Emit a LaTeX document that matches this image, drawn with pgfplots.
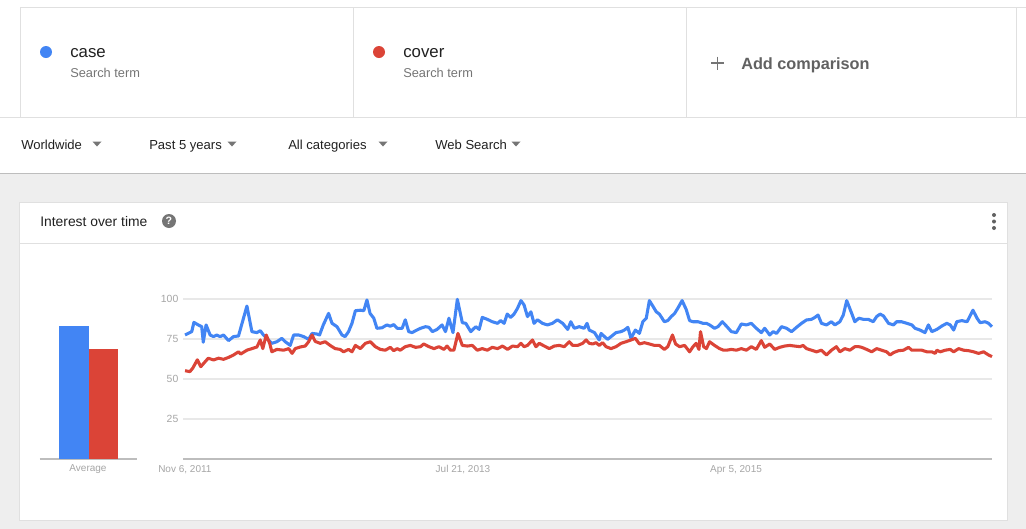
\documentclass[border=0pt]{standalone}
\usepackage{fontspec}
\setmainfont{Liberation Sans}
\usepackage{pgfplots}
\pgfplotsset{compat=1.18}
\definecolor{gblue}{HTML}{4285F4}
\definecolor{gred}{HTML}{DB4437}
\definecolor{pagegray}{HTML}{EEEEEE}
\definecolor{linegray}{HTML}{E0E0E0}
\definecolor{gridgray}{HTML}{E8E8E8}
\definecolor{axisgray}{HTML}{BDBDBD}
\definecolor{tickgray}{HTML}{A6A6A6}
\definecolor{textdark}{HTML}{212121}
\definecolor{textmid}{HTML}{757575}
\definecolor{textadd}{HTML}{616161}

\begin{document}
\begin{tikzpicture}
% page frame, 1 px = 0.75pt, y downward
\begin{scope}[x=0.75pt,y=-0.75pt]
  \useasboundingbox (0,0) rectangle (1026,529);
  \fill[white] (0,0) rectangle (1026,529);
  % search term cards
  \draw[linegray] (20,7) -- (1026,7);
  \draw[linegray] (20,7) -- (20,117);
  \draw[linegray] (353,7) -- (353,117);
  \draw[linegray] (686,7) -- (686,117);
  \draw[linegray] (1016,7) -- (1016,117);
  \draw[linegray] (0,117) -- (1026,117);
  \fill[gblue] (46,52) circle (6);
  \fill[gred] (379,52) circle (6);
  \node[anchor=base west, inner sep=0, text=textdark, font=\fontsize{12.6}{14}\selectfont] at (70,57.5) {case};
  \node[anchor=base west, inner sep=0, text=textmid, font=\fontsize{9.6}{11}\selectfont] at (70,77.5) {Search term};
  \node[anchor=base west, inner sep=0, text=textdark, font=\fontsize{12.6}{14}\selectfont] at (403,57.5) {cover};
  \node[anchor=base west, inner sep=0, text=textmid, font=\fontsize{9.6}{11}\selectfont] at (403,77.5) {Search term};
  \draw[textmid, line width=1.1pt] (711,63) -- (724,63) (717.5,56.5) -- (717.5,69.5);
  \node[anchor=base west, inner sep=0, text=textadd, font=\bfseries\fontsize{12.2}{14}\selectfont] at (741,69) {Add comparison};
  % filter row
  \node[anchor=base west, inner sep=0, text=textdark, font=\fontsize{9.8}{11}\selectfont] at (21,149.5) {Worldwide};
  \node[anchor=base west, inner sep=0, text=textdark, font=\fontsize{9.8}{11}\selectfont] at (149,149.5) {Past 5 years};
  \node[anchor=base west, inner sep=0, text=textdark, font=\fontsize{9.8}{11}\selectfont] at (288,149.5) {All categories};
  \node[anchor=base west, inner sep=0, text=textdark, font=\fontsize{9.8}{11}\selectfont] at (435,149.5) {Web Search};
  \foreach \ax in {97,232,383,516}
    \fill[textmid] (\ax-4.5,141.5) -- (\ax+4.5,141.5) -- (\ax,146.5) -- cycle;
  % gray page and card
  \fill[pagegray] (0,173) rectangle (1026,529);
  \draw[axisgray] (0,173) -- (1026,173);
  \fill[white, draw=linegray] (19,202) rectangle (1007,520);
  \draw[linegray] (19,243) -- (1007,243);
  \node[anchor=base west, inner sep=0, text=textdark, font=\fontsize{10.4}{12}\selectfont] at (40,226.5) {Interest over time};
  \fill[textmid] (169,221) circle (7);
  \node[text=white, inner sep=0, font=\bfseries\fontsize{8}{9}\selectfont] at (169,221) {?};
  \foreach \dy in {215,221.5,228}
    \fill[textadd] (994,\dy) circle (2);
\end{scope}

% average bars
\begin{axis}[
  at={(30pt,-344.25pt)}, anchor=south west,
  scale only axis, width=72.75pt, height=120pt,
  xmin=0, xmax=97, ymin=0, ymax=100,
  axis line style={draw=none},
  ytick=\empty,
  xtick={48}, xticklabels={Average},
  tick style={draw=none},
  xticklabel style={font=\fontsize{7.5}{9}\selectfont, text=tickgray, yshift=-1pt},
  extra y ticks={0}, extra y tick labels={},
  extra y tick style={ymajorgrids=true, major grid style={draw=axisgray, line width=0.9pt}},
  clip=false,
]
  \addplot[ybar, bar shift=0pt, bar width=30, fill=gblue, draw=none] coordinates {(34,83)};
  \addplot[ybar, bar shift=0pt, bar width=29, fill=gred, draw=none] coordinates {(63.5,69)};
\end{axis}

% interest over time
\begin{axis}[
  at={(137.25pt,-344.25pt)}, anchor=south west,
  scale only axis, width=606.75pt, height=120pt,
  xmin=0, xmax=259.5, ymin=0, ymax=100,
  axis line style={draw=none},
  tick style={draw=none},
  ytick={25,50,75,100},
  ymajorgrids=true,
  major grid style={draw=gridgray, line width=0.9pt},
  extra y ticks={0}, extra y tick labels={},
  extra y tick style={major grid style={draw=axisgray, line width=0.9pt}},
  xtick={0.6,89.8,177.4},
  xticklabels={{Nov 6, 2011},{Jul 21, 2013},{Apr 5, 2015}},
  /pgf/number format/assume math mode=true,
  yticklabel style={font=\fontsize{7.8}{9}\selectfont, text=tickgray},
  xticklabel style={font=\fontsize{7.5}{9}\selectfont, text=tickgray, yshift=-1pt},
  clip=false,
]
  \addplot[gblue, line width=2.3pt, line join=round] coordinates {
    (0.65,77.5)(2.8,79.6)(3.5,85.4)(4.9,83.8)(6,82.7)(6.5,73)(7.4,83.8)(8.7,77.5)(9.8,76.5)(10.8,77.5)(11.9,76.5)(13,77.5)(14.6,74)(16.2,76.5)(17.8,76.9)(20.5,95.6)(22.1,79.6)(23.7,79)(24.8,80.2)(25.8,77.5)(26.9,75.4)(28.5,72.3)(30.1,73.3)(31.7,75.4)(32.8,73.3)(34.4,71)(35.5,77.5)(37.1,77.5)(38.7,76.5)(40.3,74.8)(41.4,78.5)(43,78.1)(43.8,77.5)(45,83.8)(46.7,91)(47.8,84.8)(49.4,82.7)(51,77.5)(52,76.5)(53.1,79.6)(54.2,84.8)(55.3,92.7)(56.9,93)(58,92.7)(59,99.4)(60,91)(61.2,88)(62.2,81.7)(63.8,82)(65.4,83.8)(66.5,83)(67.6,84)(68.7,81.7)(70.3,81.7)(71.3,87)(72.4,79.6)(73.5,79)(74.6,80.2)(76.2,81.7)(77.8,82.7)(78.9,82.3)(80,79.6)(81.5,81)(83.1,83.8)(84.2,79.6)(85.3,88)(86.6,79)(88,99.8)(89.6,85.2)(90.7,84.8)(92.3,79.6)(93.9,82.7)(95,81)(96,88.5)(97.6,87.3)(99.2,85.8)(100.9,84.8)(101.9,86.5)(103,84.8)(104,90.6)(105.1,88.5)(106.2,90.6)(107.3,94.2)(108.4,99)(109.4,96.3)(110.5,89)(111.6,92)(112.6,84.8)(113.7,87)(115.3,84.8)(116.9,83.8)(118.5,84.8)(120.1,87)(121.8,84.8)(123.4,81)(124.4,85.8)(125.5,81.7)(127.1,82.7)(128.7,81.7)(129.6,84.8)(130.3,80.6)(132,79)(133.5,74.4)(134.1,78.5)(135.2,76.5)(136.2,74.8)(137.3,76.5)(138.9,79)(140.5,79.6)(141.6,80.6)(142.7,82.3)(143.7,75.4)(145.1,80.6)(146.4,78.5)(147.5,85.8)(148.6,88)(149.6,99)(150.7,95.6)(151.8,92)(152.8,90.6)(154.4,85.8)(155.5,86.5)(156.6,89)(157.7,91)(158.7,94.2)(160.1,99)(161.4,93.5)(162.5,86.5)(163.6,85.8)(165.2,85.8)(166.8,84.8)(167.9,84.8)(168.9,83.8)(170.5,81.7)(171.6,82.7)(173,85.8)(174.3,83.1)(175.9,79.6)(177.5,79)(179.1,84.4)(180.7,83.8)(182.3,84.8)(183.9,81.7)(185.5,79)(186.6,81.7)(188.2,77.5)(189.3,79.6)(190.4,78.5)(192,82.7)(193.6,81.7)(195.2,79.6)(196.8,82.3)(198.4,84.8)(200,86.9)(201.6,87.3)(202.7,88.5)(203.7,90)(204.8,84.8)(206.4,83.8)(208,85.8)(209.1,83.8)(210.7,85.8)(211.8,90)(212.9,99)(214.5,91)(215.5,85.8)(216.8,88)(218.2,87.3)(219.8,87.3)(221.4,85.8)(222.5,89)(223.6,90.6)(224.7,89.4)(226.3,84.8)(227.9,83.8)(228.9,85.8)(230.5,85.8)(232.2,84.8)(233.8,83.8)(234.8,81.7)(236.4,80.6)(238,79)(239.1,83.8)(240.2,79.6)(241.8,81)(243.4,83.1)(245,84.8)(246.1,83.8)(247.2,80.6)(248.2,85.8)(249.8,86.5)(251.5,85.8)(253.4,93)(254.7,88)(255.7,85.2)(257.3,85.8)(258.4,84.8)(259.5,82.7)
  };
  \addplot[gred, line width=2.3pt, line join=round] coordinates {
    (0.65,55.2)(2.2,54.6)(3.1,56.7)(4.6,62)(5.7,57.7)(7.1,60.8)(8.1,63)(9.8,61.9)(11.4,63)(13,62.3)(14.6,63.5)(16.2,65)(17.8,67)(18.5,65.6)(20.5,68)(22.1,69)(23.7,70)(24.8,74.4)(25.6,69)(26.7,77.5)(27.8,72.3)(28.5,67)(30.1,68.5)(32.3,68)(33.9,69)(35,66)(36,69)(37.6,70)(39.2,70.6)(40.3,73.3)(41.4,77.5)(42.4,73.5)(44,72.3)(45.6,73.3)(47.2,71)(48.8,69)(50.4,68.5)(51.5,67)(53.1,68.5)(54.2,67)(55.3,71)(56.9,69)(58.5,72.3)(60.1,73.3)(61.7,70.2)(63.3,68.5)(64.9,68)(66.5,69.8)(67.6,67.7)(68.7,69)(69.7,68)(71.3,70.2)(72.9,71)(74.6,69.8)(76.2,70.2)(77.2,71.9)(78.9,70.2)(80.5,69)(82.1,70.2)(83.7,68.5)(84.7,70.6)(85.8,68)(86.9,68)(88.2,78.5)(89.6,71)(91.2,70.6)(92.8,71)(94.4,68)(96,69)(97.6,68)(99.2,69.8)(100.9,69)(102.5,70.6)(104.1,68.5)(105.7,70.6)(107.3,70.2)(108.4,72.3)(109.4,70.2)(110.5,71)(112.1,74.4)(113.2,70.2)(114.3,72.3)(115.9,70.6)(117.5,69)(119.1,70.6)(120.7,71)(122.3,70.2)(123.9,73.3)(125,71)(126.6,71)(128.2,72.3)(129.3,74.4)(130.3,72.3)(131.4,71.9)(132.5,72.7)(133.5,71)(134.6,72.7)(135.7,70.2)(137.3,69)(138.9,70.2)(140.5,72.3)(142.1,73.3)(143.7,74.4)(145.1,75.4)(146.4,71.9)(148,72.7)(149.6,71.9)(151.2,71)(152.8,71)(154.4,68.5)(155.5,70.2)(157,77.5)(158,71.9)(159.3,70.2)(160.9,71)(162.5,67)(163.6,70.2)(164.6,72.3)(165.5,68.5)(166,79.6)(167,70.2)(167.9,69)(168.9,73.3)(170.5,71)(172.1,69)(173.4,68)(174.3,68)(175.9,68.5)(177.5,68)(179.1,69)(180.7,68)(182.3,70.2)(183.9,68.5)(185.5,74)(186.6,69.8)(188.2,71.9)(189.8,68.5)(191.4,69.8)(193,70.6)(194.6,71)(196.2,70.6)(197.9,70.2)(198.9,71)(200,69)(201.6,68)(203.2,67)(204.8,68)(206.4,65)(208,68)(209.6,70.2)(210.7,67)(212.3,69)(213.9,68)(215.5,70.2)(216.8,70.2)(217.7,69.8)(219.3,68.5)(220.9,67)(222.5,69)(224.1,68)(225.7,67)(226.8,65)(227.9,66.5)(229.5,67.7)(231.1,68)(232.7,69.8)(233.8,68)(235.4,68)(237,68)(238.6,67)(240.2,67)(241.3,66)(241.8,68)(242.9,67)(244.5,68)(246.1,68.5)(247.2,67)(248.8,69)(250.4,68)(252,67.7)(253.6,67)(255.2,66)(256.8,67)(258.4,65)(259.5,64)
  };
\end{axis}
\end{tikzpicture}
\end{document}
